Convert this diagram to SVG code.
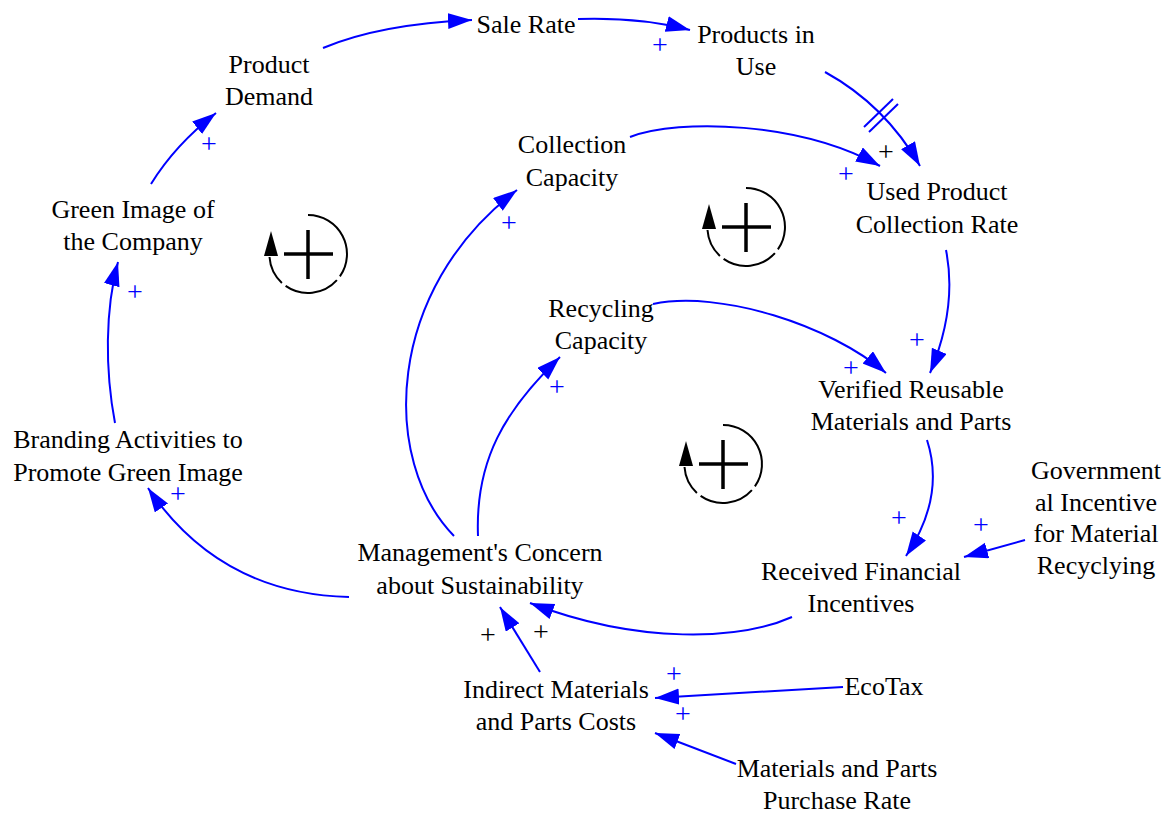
<svg xmlns="http://www.w3.org/2000/svg" width="1168" height="814" viewBox="0 0 1168 814">
  <style>
    .lbl { font-family: "Liberation Serif", "Times New Roman", serif; font-size: 26px; fill: #000; text-anchor: middle; }
    .link { fill: none; stroke: #0000ff; stroke-width: 2; marker-end: url(#ah); }
    .pol { font-family: "Liberation Serif", "Times New Roman", serif; font-size: 28px; text-anchor: middle; }
    .pos { fill: #0000ff; }
    .pos-k { fill: #000; }
    .hash { stroke: #0000ff; stroke-width: 2; }
    .loop-arc { fill: none; stroke: #000; stroke-width: 2; }
    .loop-plus { stroke: #000; stroke-width: 3.5; }
  </style>
  <defs>
    <marker id="ah" markerUnits="userSpaceOnUse" markerWidth="26" markerHeight="18" refX="24" refY="8" orient="auto">
      <path d="M0,0 L24,8 L0,16 z" fill="#0000ff"/>
    </marker>
    <!-- reinforcing loop glyph, centred on 0,0 -->
    <g id="loopR">
      <path class="loop-arc" d="M0,-39 A39,39 0 0 1 31.9,22.4"/>
      <path class="loop-arc" d="M28.9,26.1 A39,39 0 0 1 -22.4,31.9"/>
      <path class="loop-arc" d="M-26.1,28.9 A39,39 0 0 1 -38.5,3"/>
      <path d="M-37,-23 L-44,2 L-30,2 z" fill="#000"/>
      <line class="loop-plus" x1="-24" y1="0" x2="25" y2="0"/>
      <line class="loop-plus" x1="0" y1="-24" x2="0" y2="25"/>
    </g>
  </defs>

  <rect width="1168" height="814" fill="#fff"/>

  <!-- causal links -->
  <g id="links">
    <path class="link" d="M323,48 Q380,24 472,20"/>
    <path class="link" d="M578,19 Q640,17 690,30"/>
    <path class="link" d="M825,72 Q885,105 920,166"/>
    <line class="hash" x1="864" y1="127" x2="893" y2="99"/>
    <line class="hash" x1="869" y1="132" x2="898" y2="104"/>
    <path class="link" d="M630,137 C680,118 800,122 880,166"/>
    <path class="link" d="M946,250 C954,290 948,330 930,373"/>
    <path class="link" d="M653,304 C720,290 830,325 886,373"/>
    <path class="link" d="M927,440 C940,480 930,520 906,556"/>
    <path class="link" d="M1025,540 L964,557"/>
    <path class="link" d="M792,617 C740,640 640,645 530,603"/>
    <path class="link" d="M540,672 L500,607"/>
    <path class="link" d="M349,597 C270,595 200,565 148,488"/>
    <path class="link" d="M115,423 C105,370 105,310 118,262"/>
    <path class="link" d="M151,184 Q175,145 216,113"/>
    <path class="link" d="M454,536 C380,460 385,290 517,190"/>
    <path class="link" d="M478,536 C475,460 505,410 560,357"/>
    <path class="link" d="M843,687 L655,698"/>
    <path class="link" d="M736,764 L655,733"/>
  </g>

  <!-- link polarities -->
  <g id="polarities" class="pol">
    <text class="pos" x="209" y="153">+</text>
    <text class="pos" x="660" y="54">+</text>
    <text class="pos-k" x="886" y="161">+</text>
    <text class="pos" x="846" y="183">+</text>
    <text class="pos" x="509" y="232">+</text>
    <text class="pos" x="135" y="301">+</text>
    <text class="pos" x="917" y="349">+</text>
    <text class="pos" x="851" y="377">+</text>
    <text class="pos" x="557" y="396">+</text>
    <text class="pos" x="178" y="503">+</text>
    <text class="pos" x="899" y="527">+</text>
    <text class="pos" x="981" y="534">+</text>
    <text class="pos-k" x="488" y="644">+</text>
    <text class="pos-k" x="541" y="641">+</text>
    <text class="pos" x="674" y="683">+</text>
    <text class="pos" x="683" y="723">+</text>
  </g>

  <!-- loop markers -->
  <g id="loops">
    <use href="#loopR" transform="translate(308,254)"/>
    <use href="#loopR" transform="translate(746,227)"/>
    <use href="#loopR" transform="translate(723,464)"/>
  </g>

  <!-- variables -->
  <g id="product-demand"><text class="lbl"><tspan x="269" y="73">Product</tspan><tspan x="269" y="105">Demand</tspan></text></g>
  <g id="sale-rate"><text class="lbl" x="526" y="33">Sale Rate</text></g>
  <g id="products-in-use"><text class="lbl"><tspan x="756" y="43">Products in</tspan><tspan x="756" y="75">Use</tspan></text></g>
  <g id="collection-capacity"><text class="lbl"><tspan x="572" y="153">Collection</tspan><tspan x="572" y="186">Capacity</tspan></text></g>
  <g id="used-product-collection-rate"><text class="lbl"><tspan x="937" y="200">Used Product</tspan><tspan x="937" y="233">Collection Rate</tspan></text></g>
  <g id="green-image"><text class="lbl"><tspan x="133" y="218">Green Image of</tspan><tspan x="133" y="250">the Company</tspan></text></g>
  <g id="recycling-capacity"><text class="lbl"><tspan x="601" y="317">Recycling</tspan><tspan x="601" y="349">Capacity</tspan></text></g>
  <g id="verified-reusable"><text class="lbl"><tspan x="911" y="398">Verified Reusable</tspan><tspan x="911" y="430">Materials and Parts</tspan></text></g>
  <g id="branding-activities"><text class="lbl"><tspan x="128" y="448">Branding Activities to</tspan><tspan x="128" y="481">Promote Green Image</tspan></text></g>
  <g id="management-concern"><text class="lbl"><tspan x="480" y="561">Management's Concern</tspan><tspan x="480" y="594">about Sustainability</tspan></text></g>
  <g id="received-incentives"><text class="lbl"><tspan x="861" y="580">Received Financial</tspan><tspan x="861" y="612">Incentives</tspan></text></g>
  <g id="government-incentive"><text class="lbl"><tspan x="1096" y="479">Government</tspan><tspan x="1096" y="511">al Incentive</tspan><tspan x="1096" y="542">for Material</tspan><tspan x="1096" y="574">Recyclying</tspan></text></g>
  <g id="indirect-costs"><text class="lbl"><tspan x="556" y="698">Indirect Materials</tspan><tspan x="556" y="730">and Parts Costs</tspan></text></g>
  <g id="ecotax"><text class="lbl" x="884" y="695">EcoTax</text></g>
  <g id="purchase-rate"><text class="lbl"><tspan x="837" y="777">Materials and Parts</tspan><tspan x="837" y="809">Purchase Rate</tspan></text></g>
</svg>
